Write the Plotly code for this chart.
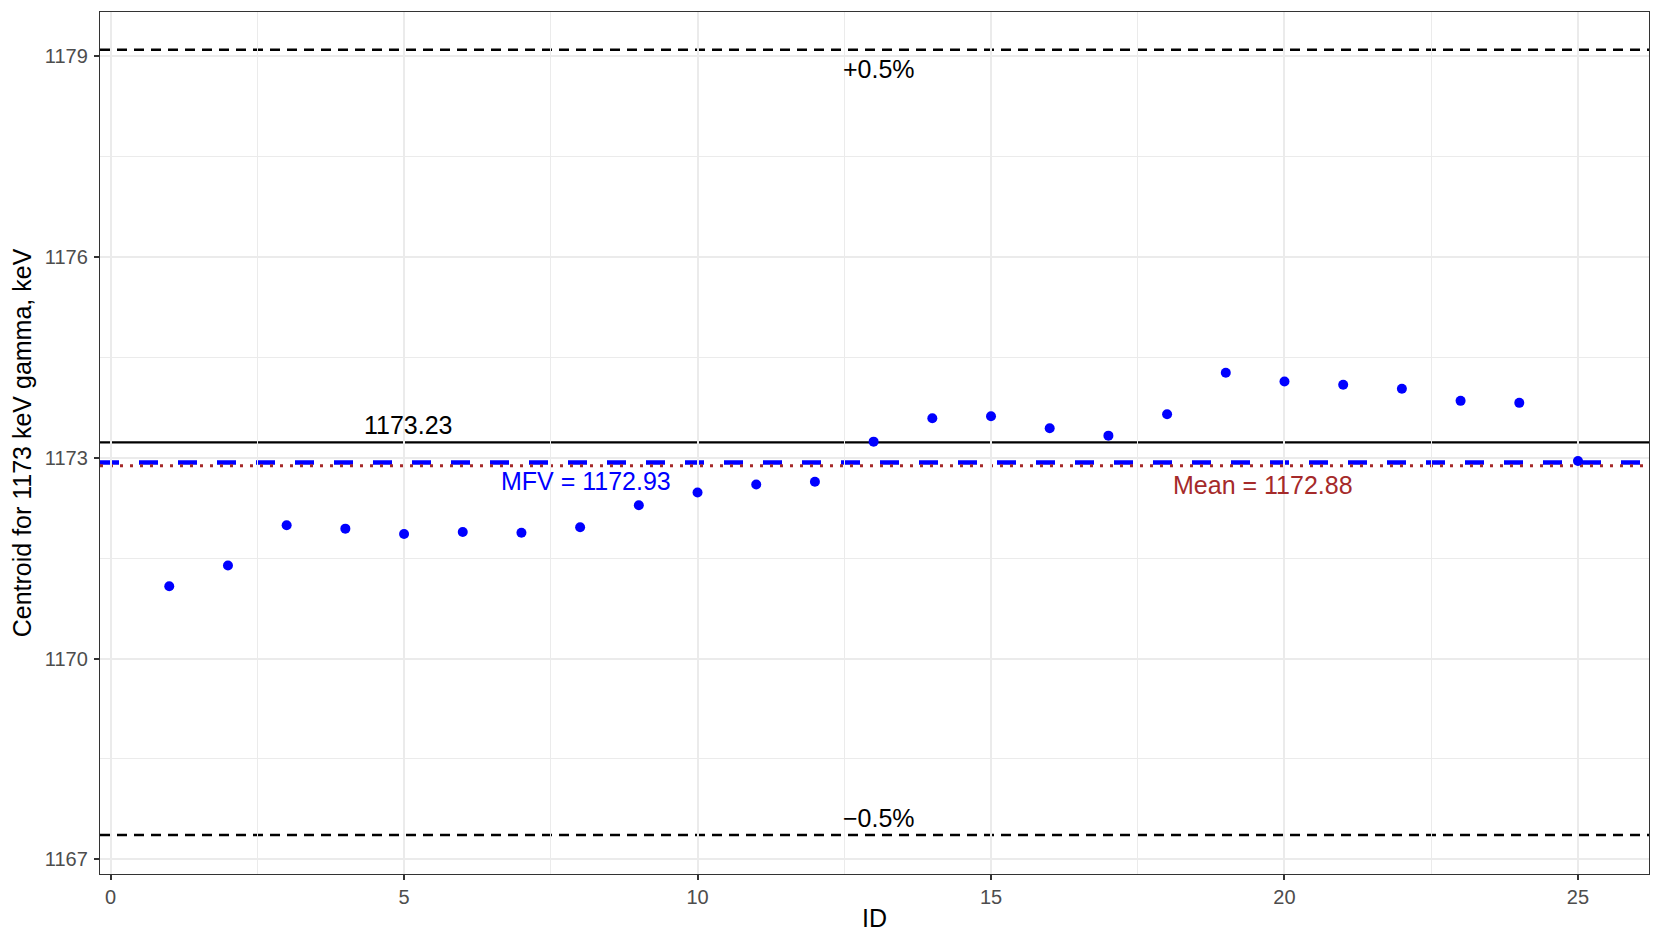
import plotly.graph_objects as go

# centroid values
ids = list(range(1, 26))
centroids = [1171.08, 1171.39, 1171.99, 1171.94, 1171.86, 1171.89, 1171.88, 1171.96,
             1172.29, 1172.48, 1172.60, 1172.64, 1173.24, 1173.59, 1173.62, 1173.44,
             1173.33, 1173.65, 1174.27, 1174.14, 1174.09, 1174.03, 1173.85, 1173.82,
             1172.95]

nominal = 1173.23
mfv = 1172.93
mean_val = 1172.88
upper = nominal * 1.005
lower = nominal * 0.995

x_ticks = [0, 5, 10, 15, 20, 25]
y_ticks = [1167, 1170, 1173, 1176, 1179]

FONT = "Liberation Sans, Arial, sans-serif"

fig = go.Figure()
fig.add_trace(go.Scatter(x=ids, y=centroids, mode="markers",
                         marker=dict(color="#0000FF", size=10), showlegend=False))

# reference lines
fig.add_hline(y=upper, line=dict(color="black", width=2.4, dash="10px,7px"), layer="below")
fig.add_hline(y=lower, line=dict(color="black", width=2.4, dash="10px,7px"), layer="below")
fig.add_hline(y=nominal, line=dict(color="black", width=2.4), layer="below")
fig.add_hline(y=mfv, line=dict(color="#0000FF", width=4.5, dash="19px,20px"), layer="below")
fig.add_hline(y=mean_val, line=dict(color="#A52A2A", width=3, dash="3px,7px"), layer="below")

labels = [
    (13.1, 1178.81, "+0.5%", "black"),
    (13.1, 1167.62, "\u22120.5%", "black"),
    (5.07, 1173.49, f"{nominal:.2f}", "black"),
    (8.10, 1172.65, f"MFV = {mfv:.2f}", "#0000FF"),
    (19.64, 1172.59, f"Mean = {mean_val:.2f}", "#A52A2A"),
]
for lx, ly, txt, col in labels:
    fig.add_annotation(x=lx, y=ly, text=txt, showarrow=False,
                       font=dict(family=FONT, size=25, color=col),
                       xanchor="center", yanchor="middle")

axis_common = dict(
    showline=True, mirror=True, linecolor="#333333", linewidth=1.3,
    ticks="outside", ticklen=5, tickwidth=1.5, tickcolor="#333333",
    showgrid=True, gridcolor="#EBEBEB", gridwidth=1.6, zeroline=False,
    automargin=False,
    tickfont=dict(family=FONT, size=20, color="#4D4D4D"),
)

fig.update_xaxes(
    range=[-0.18, 26.21], tickvals=x_ticks,
    minor=dict(dtick=2.5, tick0=0, showgrid=True, gridcolor="#EBEBEB", gridwidth=0.9),
    title=dict(text="ID", font=dict(family=FONT, size=25, color="black"), standoff=2),
    **axis_common,
)
fig.update_yaxes(
    range=[1166.78, 1179.66], tickvals=y_ticks, ticklabelstandoff=2,
    minor=dict(dtick=1.5, tick0=1167, showgrid=True, gridcolor="#EBEBEB", gridwidth=0.9),
    title=dict(text="Centroid for 1173 keV gamma, keV",
               font=dict(family=FONT, size=25, color="black"), standoff=8),
    **axis_common,
)

# the page adds an 8px body margin, so the figure is a bit smaller than the window
fig.update_layout(
    width=1653, height=938,
    margin=dict(l=92, r=12, t=4, b=72),
    plot_bgcolor="white", paper_bgcolor="white",
    font=dict(family=FONT),
)

fig.write_html("out.html")
